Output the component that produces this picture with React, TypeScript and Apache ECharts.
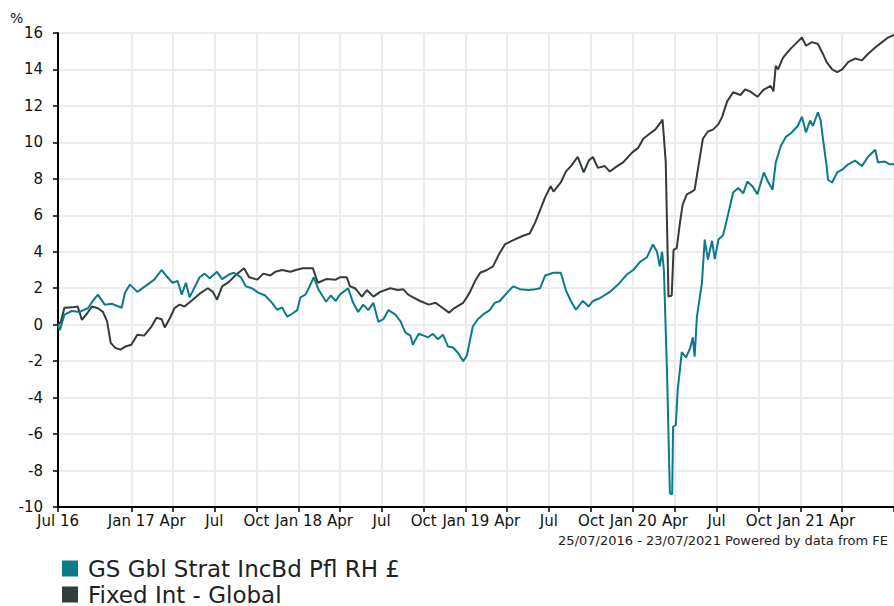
import React, { useEffect, useRef } from "react";
import * as echarts from "echarts";

const START = "2016-07-25";
const END = "2021-07-23";

const TICK_DATES = [
  "2016-07-25", "2017-01-01", "2017-04-01", "2017-07-01", "2017-10-01",
  "2018-01-01", "2018-04-01", "2018-07-01", "2018-10-01",
  "2019-01-01", "2019-04-01", "2019-07-01", "2019-10-01",
  "2020-01-01", "2020-04-01", "2020-07-01", "2020-10-01",
  "2021-01-01", "2021-04-01",
];
const TICK_LABELS = [
  "Jul 16", "Jan 17", "Apr", "Jul", "Oct",
  "Jan 18", "Apr", "Jul", "Oct",
  "Jan 19", "Apr", "Jul", "Oct",
  "Jan 20", "Apr", "Jul", "Oct",
  "Jan 21", "Apr",
];

const SERIES_NAMES = ["GS Gbl Strat IncBd Pfl RH £", "Fixed Int - Global"];
const SERIES_COLORS = ["#0b7a89", "#323c39"];

const GS_DATA: [string, number][] = [
  ["2016-07-25", 0.0], ["2016-07-29", -0.3], ["2016-08-08", 0.55], ["2016-08-24", 0.75],
  ["2016-09-10", 0.7], ["2016-09-28", 0.9], ["2016-10-09", 1.3], ["2016-10-20", 1.65],
  ["2016-11-04", 1.1], ["2016-11-19", 1.15], ["2016-12-11", 0.93], ["2016-12-18", 1.75],
  ["2016-12-29", 2.2], ["2017-01-14", 1.8], ["2017-01-31", 2.1], ["2017-02-20", 2.47],
  ["2017-03-08", 3.0], ["2017-03-21", 2.6], ["2017-04-01", 2.3], ["2017-04-12", 2.4],
  ["2017-04-21", 1.65], ["2017-04-30", 2.3], ["2017-05-08", 1.5], ["2017-05-30", 2.6],
  ["2017-06-10", 2.8], ["2017-06-21", 2.55], ["2017-07-07", 2.9], ["2017-07-18", 2.5],
  ["2017-08-02", 2.75], ["2017-08-13", 2.85], ["2017-08-28", 2.6], ["2017-09-08", 2.1],
  ["2017-09-21", 2.0], ["2017-10-05", 1.76], ["2017-10-20", 1.6], ["2017-11-04", 1.2],
  ["2017-11-15", 0.82], ["2017-11-26", 0.95], ["2017-12-07", 0.44], ["2017-12-18", 0.6],
  ["2017-12-29", 0.8], ["2018-01-05", 1.5], ["2018-01-16", 1.65], ["2018-01-23", 2.0],
  ["2018-02-03", 2.6], ["2018-02-14", 1.9], ["2018-03-02", 1.26], ["2018-03-12", 1.6],
  ["2018-03-23", 1.3], ["2018-04-01", 1.65], ["2018-04-19", 2.0], ["2018-04-30", 1.2],
  ["2018-05-11", 0.7], ["2018-05-22", 1.1], ["2018-06-02", 0.8], ["2018-06-13", 1.2],
  ["2018-06-24", 0.16], ["2018-07-05", 0.3], ["2018-07-16", 0.8], ["2018-07-31", 0.55],
  ["2018-08-11", 0.2], ["2018-08-22", -0.44], ["2018-09-02", -0.6], ["2018-09-07", -1.1],
  ["2018-09-20", -0.5], ["2018-10-01", -0.6], ["2018-10-10", -0.7], ["2018-10-21", -0.5],
  ["2018-11-01", -0.8], ["2018-11-12", -0.55], ["2018-11-23", -1.2], ["2018-12-04", -1.25],
  ["2018-12-15", -1.55], ["2018-12-26", -2.0], ["2019-01-03", -1.7], ["2019-01-16", -0.1],
  ["2019-01-27", 0.3], ["2019-02-07", 0.55], ["2019-02-22", 0.8], ["2019-03-05", 1.2],
  ["2019-03-16", 1.3], ["2019-04-01", 1.76], ["2019-04-14", 2.1], ["2019-04-29", 1.95],
  ["2019-05-17", 1.9], ["2019-06-01", 1.95], ["2019-06-12", 2.0], ["2019-06-23", 2.7],
  ["2019-07-11", 2.85], ["2019-07-27", 2.85], ["2019-08-07", 1.9], ["2019-08-18", 1.3],
  ["2019-08-29", 0.82], ["2019-09-13", 1.3], ["2019-09-26", 1.0], ["2019-10-05", 1.3],
  ["2019-10-20", 1.45], ["2019-11-11", 1.8], ["2019-11-29", 2.2], ["2019-12-18", 2.75],
  ["2020-01-01", 3.0], ["2020-01-16", 3.45], ["2020-01-31", 3.7], ["2020-02-13", 4.4],
  ["2020-02-22", 4.0], ["2020-02-28", 3.2], ["2020-03-04", 4.0], ["2020-03-08", 3.0],
  ["2020-03-15", -2.85], ["2020-03-21", -9.25], ["2020-03-26", -9.3], ["2020-03-28", -5.6],
  ["2020-04-03", -5.5], ["2020-04-07", -3.6], ["2020-04-16", -1.5], ["2020-04-25", -1.8],
  ["2020-05-04", -1.3], ["2020-05-10", -0.7], ["2020-05-14", -1.75], ["2020-05-19", 0.44],
  ["2020-05-30", 2.3], ["2020-06-05", 4.67], ["2020-06-12", 3.57], ["2020-06-21", 4.6],
  ["2020-06-27", 3.6], ["2020-07-05", 4.67], ["2020-07-15", 4.9], ["2020-07-26", 6.04],
  ["2020-08-06", 7.25], ["2020-08-17", 7.5], ["2020-08-28", 7.2], ["2020-09-06", 7.85],
  ["2020-09-17", 7.6], ["2020-09-28", 7.15], ["2020-10-12", 8.35], ["2020-10-20", 7.9],
  ["2020-10-31", 7.4], ["2020-11-07", 8.9], ["2020-11-18", 9.8], ["2020-11-29", 10.3],
  ["2020-12-10", 10.5], ["2020-12-25", 10.9], ["2021-01-03", 11.4], ["2021-01-12", 10.55],
  ["2021-01-21", 11.2], ["2021-01-27", 10.9], ["2021-02-07", 11.65], ["2021-02-13", 11.2],
  ["2021-02-18", 10.2], ["2021-02-26", 8.7], ["2021-03-01", 7.95], ["2021-03-10", 7.8],
  ["2021-03-21", 8.35], ["2021-04-01", 8.5], ["2021-04-14", 8.8], ["2021-04-29", 9.0],
  ["2021-05-14", 8.7], ["2021-05-27", 9.2], ["2021-06-12", 9.6], ["2021-06-18", 8.9],
  ["2021-07-03", 8.95], ["2021-07-14", 8.8], ["2021-07-23", 8.8],
];

const FI_DATA: [string, number][] = [
  ["2016-07-25", 0.0], ["2016-07-31", 0.15], ["2016-08-08", 0.93], ["2016-08-24", 0.95],
  ["2016-09-06", 1.0], ["2016-09-15", 0.27], ["2016-09-26", 0.6], ["2016-10-07", 1.0],
  ["2016-10-20", 0.9], ["2016-10-31", 0.7], ["2016-11-09", 0.2], ["2016-11-17", -1.0],
  ["2016-11-27", -1.27], ["2016-12-08", -1.37], ["2016-12-19", -1.2], ["2017-01-01", -1.1],
  ["2017-01-14", -0.55], ["2017-01-29", -0.6], ["2017-02-14", -0.1], ["2017-02-25", 0.38],
  ["2017-03-08", 0.3], ["2017-03-15", -0.15], ["2017-03-26", 0.35], ["2017-04-05", 0.9],
  ["2017-04-16", 1.1], ["2017-04-27", 1.0], ["2017-05-15", 1.37], ["2017-05-30", 1.7],
  ["2017-06-17", 2.0], ["2017-06-28", 1.8], ["2017-07-07", 1.37], ["2017-07-18", 2.1],
  ["2017-08-02", 2.35], ["2017-08-18", 2.75], ["2017-09-04", 3.1], ["2017-09-15", 2.6],
  ["2017-10-03", 2.47], ["2017-10-16", 2.8], ["2017-10-31", 2.7], ["2017-11-11", 2.9],
  ["2017-11-26", 3.0], ["2017-12-14", 2.9], ["2017-12-26", 3.0], ["2018-01-10", 3.1],
  ["2018-02-01", 3.1], ["2018-02-12", 2.3], ["2018-03-02", 2.5], ["2018-03-23", 2.47],
  ["2018-04-01", 2.6], ["2018-04-16", 2.6], ["2018-04-23", 2.1], ["2018-05-04", 2.0],
  ["2018-05-19", 1.54], ["2018-05-30", 1.9], ["2018-06-13", 1.54], ["2018-06-28", 1.8],
  ["2018-07-20", 2.0], ["2018-08-06", 1.9], ["2018-08-17", 1.95], ["2018-08-28", 1.65],
  ["2018-09-08", 1.5], ["2018-09-23", 1.3], ["2018-10-12", 1.1], ["2018-10-27", 1.2],
  ["2018-11-07", 1.0], ["2018-11-25", 0.66], ["2018-12-06", 0.9], ["2018-12-26", 1.2],
  ["2019-01-03", 1.5], ["2019-01-10", 1.8], ["2019-01-21", 2.4], ["2019-02-01", 2.85],
  ["2019-02-16", 3.0], ["2019-03-01", 3.2], ["2019-03-16", 3.95], ["2019-03-27", 4.4],
  ["2019-04-11", 4.6], ["2019-05-03", 4.85], ["2019-05-20", 5.0], ["2019-06-01", 5.6],
  ["2019-06-12", 6.3], ["2019-06-23", 7.0], ["2019-07-05", 7.6], ["2019-07-11", 7.3],
  ["2019-07-27", 7.8], ["2019-08-07", 8.4], ["2019-08-18", 8.7], ["2019-09-02", 9.2],
  ["2019-09-15", 8.35], ["2019-09-26", 9.0], ["2019-10-05", 9.2], ["2019-10-16", 8.6],
  ["2019-10-31", 8.7], ["2019-11-11", 8.4], ["2019-11-27", 8.7], ["2019-12-10", 8.9],
  ["2019-12-30", 9.45], ["2020-01-12", 9.7], ["2020-01-23", 10.2], ["2020-02-07", 10.5],
  ["2020-02-18", 10.7], ["2020-03-01", 11.1], ["2020-03-05", 11.25], ["2020-03-07", 10.6],
  ["2020-03-12", 8.9], ["2020-03-18", 1.54], ["2020-03-25", 1.6], ["2020-03-29", 4.1],
  ["2020-04-05", 4.2], ["2020-04-12", 5.6], ["2020-04-18", 6.6], ["2020-04-27", 7.15],
  ["2020-05-08", 7.3], ["2020-05-14", 7.4], ["2020-05-21", 8.5], ["2020-06-01", 10.2],
  ["2020-06-12", 10.6], ["2020-06-23", 10.7], ["2020-07-05", 11.0], ["2020-07-13", 11.4],
  ["2020-07-24", 12.25], ["2020-08-06", 12.75], ["2020-08-22", 12.6], ["2020-09-01", 12.9],
  ["2020-09-12", 12.8], ["2020-09-28", 12.5], ["2020-10-12", 12.9], ["2020-10-27", 13.1],
  ["2020-11-02", 12.8], ["2020-11-07", 14.2], ["2020-11-12", 14.0], ["2020-11-23", 14.65],
  ["2020-12-08", 15.1], ["2020-12-24", 15.5], ["2021-01-03", 15.75], ["2021-01-12", 15.3],
  ["2021-01-25", 15.5], ["2021-02-07", 15.4], ["2021-02-18", 14.85], ["2021-02-26", 14.4],
  ["2021-03-10", 14.0], ["2021-03-21", 13.85], ["2021-04-01", 14.0], ["2021-04-14", 14.4],
  ["2021-04-29", 14.6], ["2021-05-14", 14.5], ["2021-05-27", 14.85], ["2021-06-12", 15.2],
  ["2021-06-27", 15.5], ["2021-07-10", 15.75], ["2021-07-23", 15.9],
];

const FONT = "DejaVu Sans, Verdana, sans-serif";

function ts(s: string): number {
  const [y, m, d] = s.split("-").map(Number);
  return Date.UTC(y, m - 1, d);
}

export default function App() {
  const ref = useRef<HTMLDivElement>(null);

  useEffect(() => {
    if (!ref.current) return;
    const chart = echarts.init(ref.current, undefined, { renderer: "svg" });
    const tickVals = TICK_DATES.map(ts);
    const labelMap = new Map<number, string>();
    tickVals.forEach((v, i) => labelMap.set(v, TICK_LABELS[i]));
    const tickWithEnd = [...tickVals, ts(END)];

    const option: any = {
      animation: false,
      color: SERIES_COLORS,
      grid: { left: 58, right: 0, top: 33, bottom: 99, containLabel: false },
      xAxis: {
        type: "value",
        min: ts(START),
        max: ts(END),
        axisLine: { show: true, onZero: false, lineStyle: { color: "#000", width: 2 } },
        axisTick: {
          show: true,
          customValues: tickWithEnd,
          length: 5,
          lineStyle: { color: "#000", width: 1.5 },
        },
        axisLabel: {
          customValues: tickVals,
          formatter: (v: number) => labelMap.get(v) ?? "",
          color: "#111",
          fontSize: 15,
          fontFamily: FONT,
          margin: 6,
          hideOverlap: false,
          showMinLabel: true,
        },
        splitLine: { show: true, lineStyle: { color: "#ececec", width: 2 } },
      },
      yAxis: {
        type: "value",
        min: -10,
        max: 16,
        interval: 2,
        axisLine: { show: true, lineStyle: { color: "#000", width: 2 } },
        axisTick: { show: true, length: 5, lineStyle: { color: "#000", width: 1.5 } },
        axisLabel: { color: "#111", fontSize: 15, fontFamily: FONT, margin: 15 },
        splitLine: { show: true, lineStyle: { color: "#ececec", width: 2 } },
      },
      legend: {
        orient: "vertical",
        left: 62,
        top: 557,
        height: 60,
        icon: "rect",
        itemWidth: 16,
        itemHeight: 16,
        itemGap: 3,
        padding: 0,
        data: SERIES_NAMES,
        textStyle: { fontSize: 23, color: "#222", fontFamily: FONT, lineHeight: 23, padding: [0, 0, 0, 5] },
      },
      graphic: [
        { type: "text", left: 10, top: 11, style: { text: "%", fontSize: 14, fill: "#111", fontFamily: FONT } },
        {
          type: "text",
          right: 6,
          top: 534,
          style: { text: "25/07/2016 - 23/07/2021 Powered by data from FE", fontSize: 13, fill: "#222", fontFamily: FONT },
        },
      ],
      series: [
        {
          name: SERIES_NAMES[0],
          type: "line",
          showSymbol: false,
          symbol: "none",
          data: GS_DATA.map(([d, v]) => [ts(d), v]),
          lineStyle: { width: 2, color: SERIES_COLORS[0] },
          itemStyle: { color: SERIES_COLORS[0] },
          z: 3,
        },
        {
          name: SERIES_NAMES[1],
          type: "line",
          showSymbol: false,
          symbol: "none",
          data: FI_DATA.map(([d, v]) => [ts(d), v]),
          lineStyle: { width: 2, color: SERIES_COLORS[1] },
          itemStyle: { color: SERIES_COLORS[1] },
          z: 2,
        },
      ],
    };
    chart.setOption(option);
    return () => chart.dispose();
  }, []);

  return (
    <div
      ref={ref}
      style={{ position: "absolute", left: 0, top: 0, width: 894, height: 606, background: "#fff" }}
    />
  );
}
